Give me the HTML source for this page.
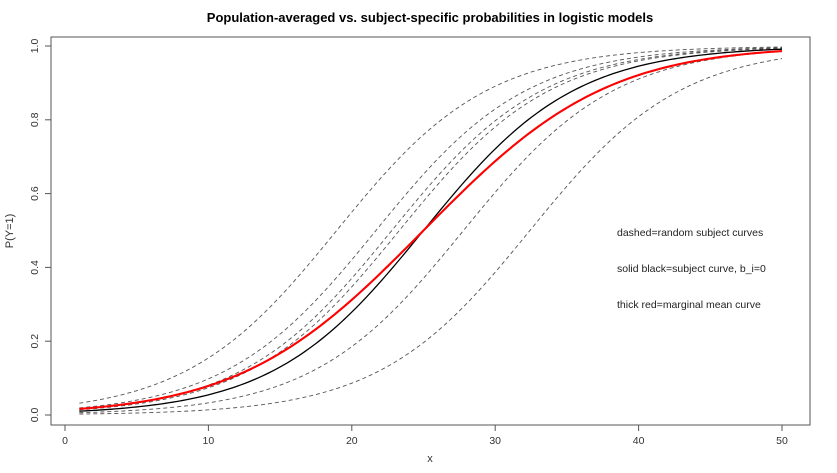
<!DOCTYPE html>
<html><head><meta charset="utf-8"><style>
body{margin:0;background:#fff;}
svg{display:block;font-family:"Liberation Sans",Arial,sans-serif;}
</style></head><body>
<svg id="chart" width="837" height="473">
<text x="430" y="22" text-anchor="middle" font-size="13" font-weight="bold">Population-averaged vs. subject-specific probabilities in logistic models</text>
<rect x="51" y="37" width="759" height="388" fill="none" stroke="#555" stroke-width="1"/>
<g id="xaxis"></g>
<g id="yaxis"></g>
<g id="curves"></g>
<text x="430" y="462" text-anchor="middle" font-size="11" fill="#333">x</text>
<text transform="translate(13,231) rotate(-90)" text-anchor="middle" font-size="11" fill="#333">P(Y=1)</text>
<text x="617" y="236" font-size="10.5" fill="#222">dashed=random subject curves</text>
<text x="617" y="272" font-size="10.5" fill="#222">solid black=subject curve, b_i=0</text>
<text x="617" y="308" font-size="10.5" fill="#222">thick red=marginal mean curve</text>
</svg>
<script>
const xTicks=[0,10,20,30,40,50];
const yTicks=[0.0,0.2,0.4,0.6,0.8,1.0];
const yTickLabels=["0.0","0.2","0.4","0.6","0.8","1.0"];
const interceptBeta0=-4.75;
const slopeBeta1=0.19;
const randomIntercepts=[1.15,0.63,0.42,0.32,-0.53,-1.41];
const randomSigma=1.0;
const xMin=1, xMax=50;

const NS="http://www.w3.org/2000/svg";
const X=v=>65+v*(782-65)/50;
const Y=p=>415-p*(415-46);
function mk(t,a,parent){const e=document.createElementNS(NS,t);for(const k in a)e.setAttribute(k,a[k]);parent.appendChild(e);return e;}
const xa=document.getElementById('xaxis'),ya=document.getElementById('yaxis'),cv=document.getElementById('curves');
xTicks.forEach(t=>{
 const l=mk('line',{x1:X(t),x2:X(t),y1:425,y2:431,stroke:'#555'},xa);
 
 
 const s=mk('text',{x:X(t),y:444,'text-anchor':'middle','font-size':'10.5',fill:'#333'},xa);
 s.textContent=String(t);
 
 
});
yTicks.forEach((t,i)=>{
 const l=mk('line',{x1:45,x2:51,y1:Y(t),y2:Y(t),stroke:'#555'},ya);
 
 
 const s=mk('text',{transform:`translate(38,${Y(t)}) rotate(-90)`,'text-anchor':'middle','font-size':'10.5',fill:'#333'},ya);
 s.textContent=yTickLabels[i];
 
 
});
const expit=z=>1/(1+Math.exp(-z));
function path(f){let d='';for(let x=xMin;x<=xMax+1e-9;x+=0.25){d+=(d?'L':'M')+X(x).toFixed(2)+','+Y(f(x)).toFixed(2);}return d;}
randomIntercepts.forEach(b=>{
 const p=mk('path',{d:path(x=>expit(interceptBeta0+b+slopeBeta1*x)),fill:'none',stroke:'#555','stroke-width':0.9,'stroke-dasharray':'4,3'},cv);
 
 
});
const bk=mk('path',{d:path(x=>expit(interceptBeta0+slopeBeta1*x)),fill:'none',stroke:'#000','stroke-width':1.3},cv);


function marg(x){let s=0,w=0;for(let z=-4;z<=4;z+=0.05){const g=Math.exp(-z*z/2);s+=g*expit(interceptBeta0+randomSigma*z+slopeBeta1*x);w+=g;}return s/w;}
const rd=mk('path',{d:path(marg),fill:'none',stroke:'#f00','stroke-width':2.1},cv);


</script>
</body></html>
